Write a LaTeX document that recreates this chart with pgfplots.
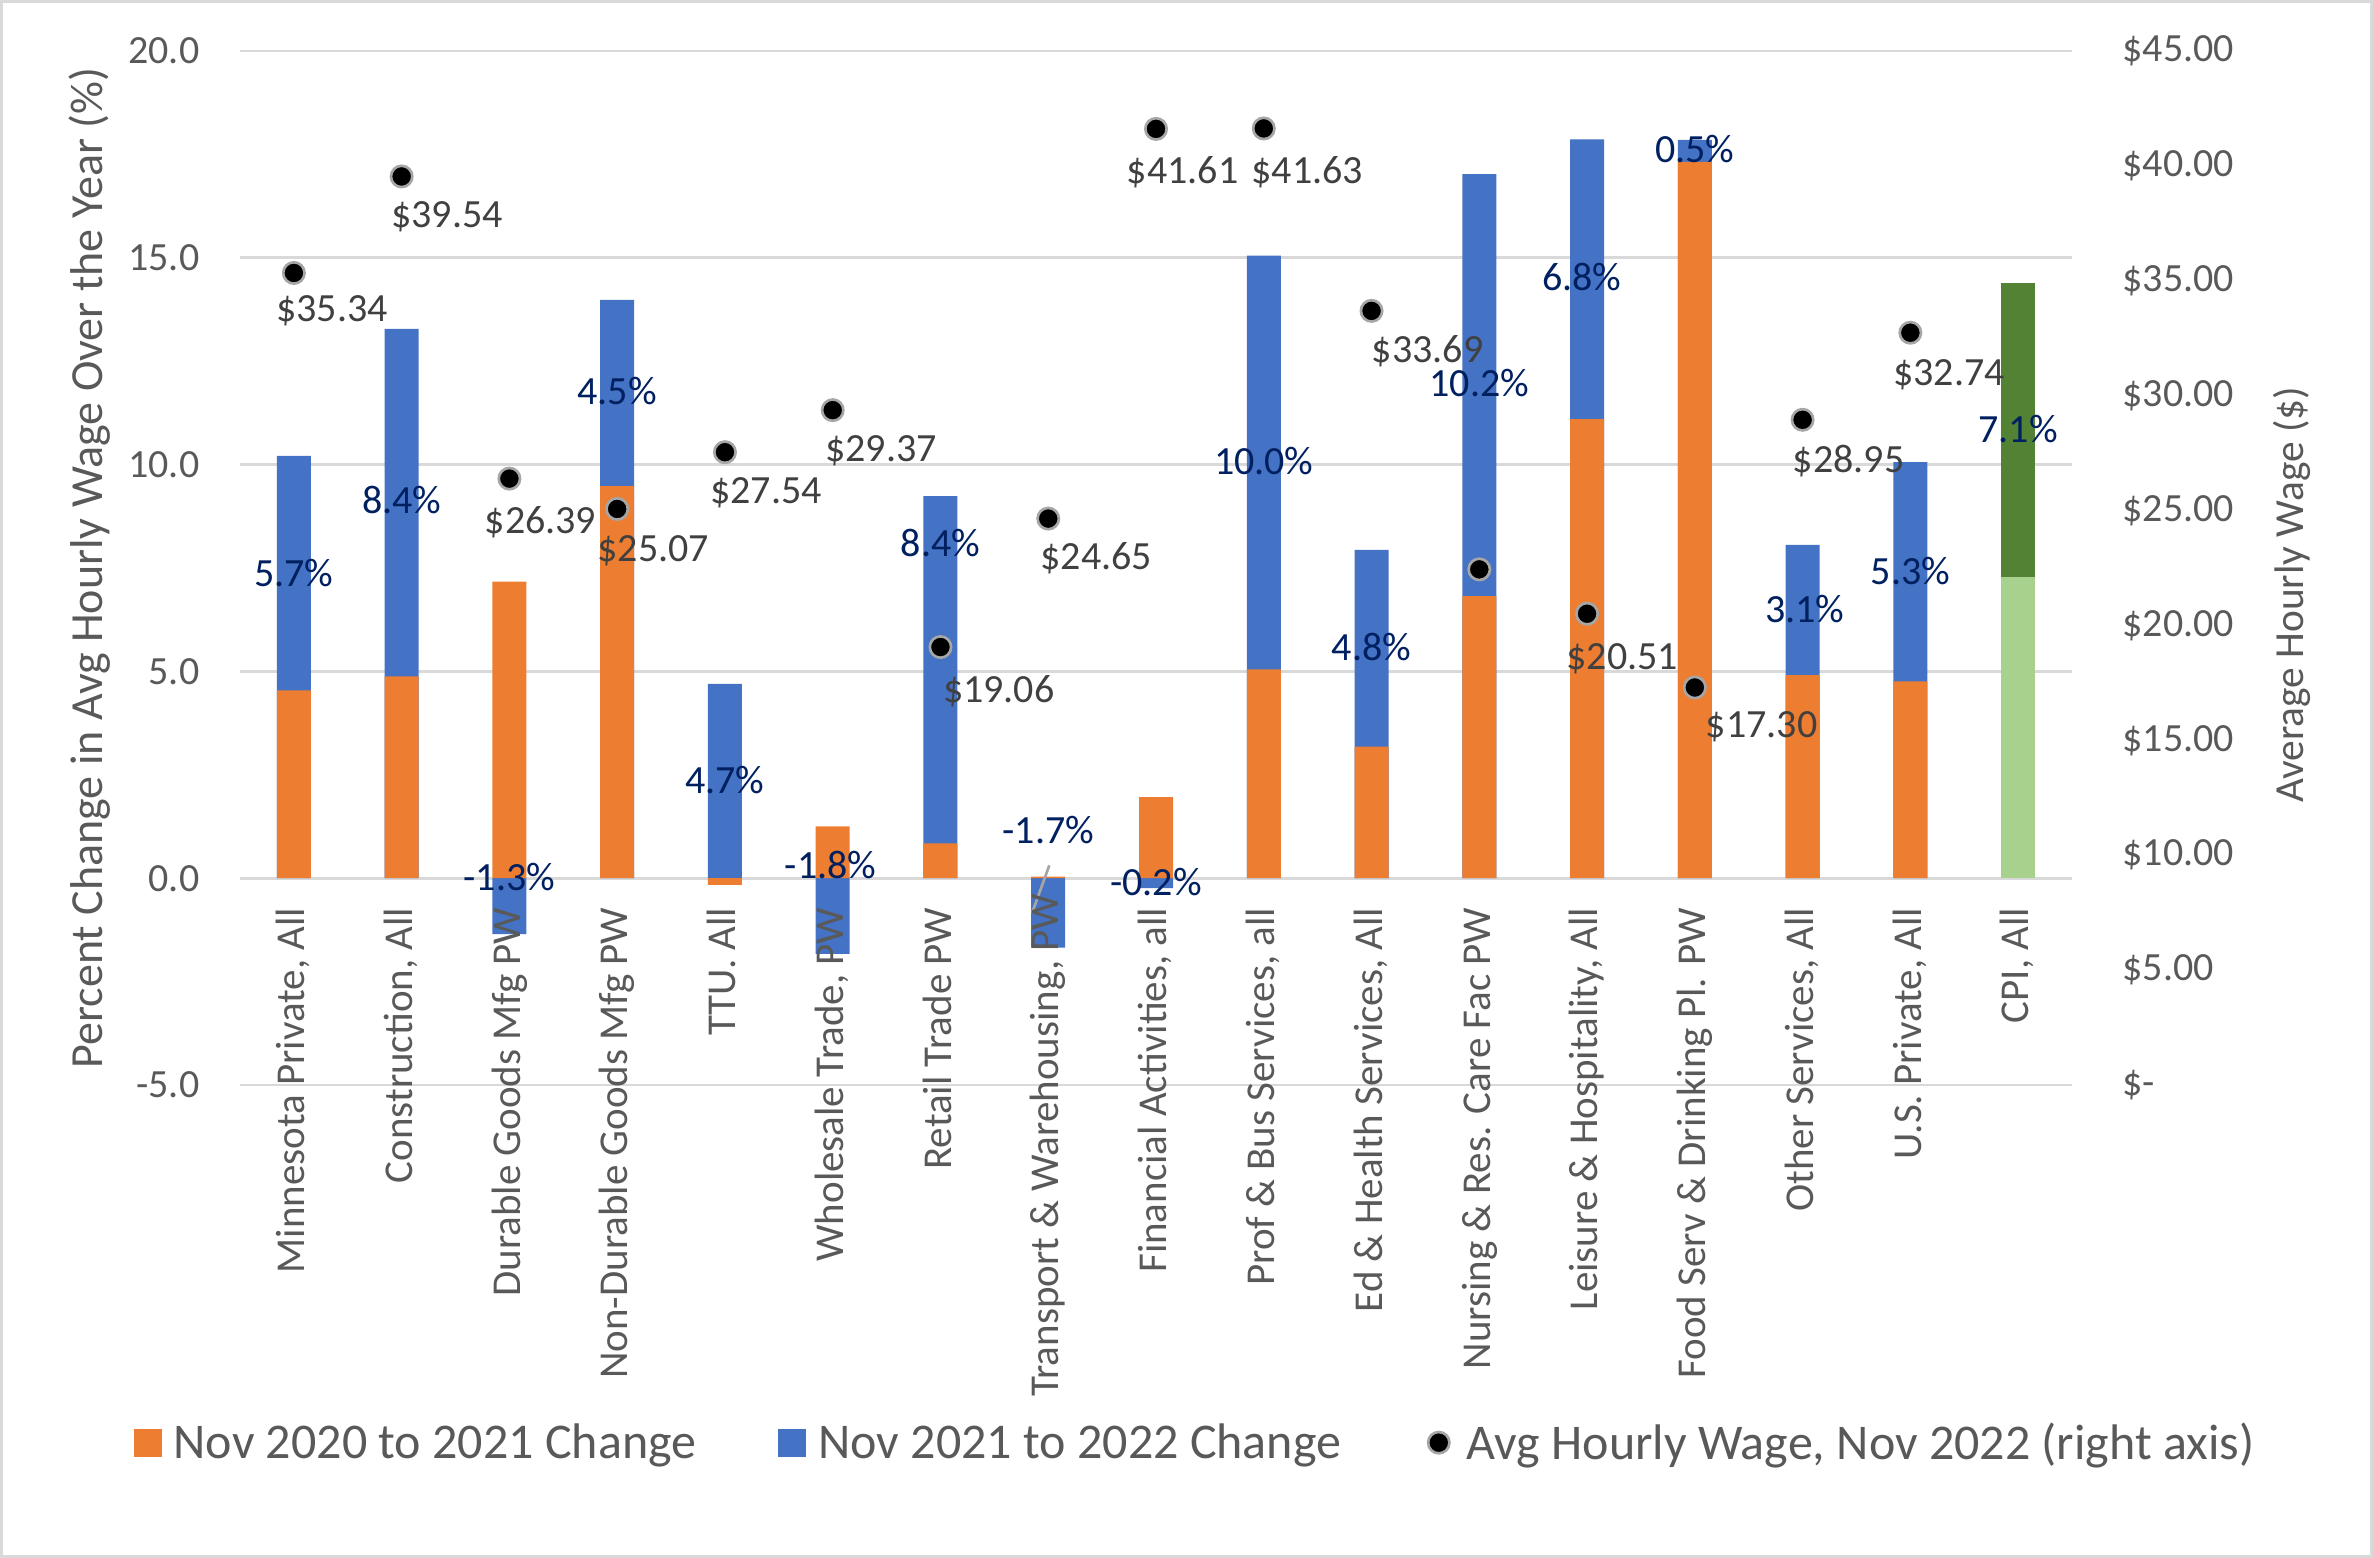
\documentclass[border=0pt]{standalone}
\usepackage{pgfplots}
\pgfplotsset{compat=1.18}
\usepackage{pgfplotstable}
\usepackage{fontspec}
\setmainfont{Carlito}

\definecolor{cOrange}{HTML}{ED7D31}
\definecolor{cBlue}{HTML}{4472C4}
\definecolor{cLGreen}{HTML}{A9D18E}
\definecolor{cDGreen}{HTML}{548235}
\definecolor{cGrid}{HTML}{D9D9D9}
\definecolor{cText}{HTML}{595959}
\definecolor{cLab}{HTML}{404040}
\definecolor{cNavy}{HTML}{002060}
\definecolor{cRing}{HTML}{A6A6A6}

\newcommand{\tickfont}{\fontsize{12bp}{14bp}\selectfont}
\newcommand{\catfont}{\fontsize{12.3bp}{14bp}\selectfont}
\newcommand{\titlefont}{\fontsize{13.8bp}{16bp}\selectfont}
\newcommand{\rtitlefont}{\fontsize{12.4bp}{14bp}\selectfont}
\newcommand{\legfont}{\fontsize{15bp}{18bp}\selectfont}

% o = Nov 2020 to 2021 change, b = Nov 2021 to 2022 change (percent)
\pgfplotstableread{
x o b
0 4.54 5.67
1 4.88 8.40
2 7.17 -1.35
3 9.48 4.50
4 -0.16 4.70
5 1.25 -1.83
6 0.84 8.40
7 0.04 -1.68
8 1.96 -0.24
9 5.05 10.00
10 3.18 4.76
11 6.82 10.20
12 11.10 6.76
13 17.32 0.53
14 4.91 3.15
15 4.76 5.30
}\chg

% CPI: a = 2020-2021, b = 2021-2022
\pgfplotstableread{
x a b
16 7.28 7.10
}\cpi

% positions of the percent labels
\pgfplotstableread{
x y lab
0 7.32 5.7
1 9.08 8.4
2 -0.04 -1.3
3 11.71 4.5
4 2.31 4.7
4.98 0.26 -1.8
6 8.04 8.4
7 1.10 -1.7
8 -0.15 -0.2
9 10.02 10.0
10 5.53 4.8
11 11.9 10.2
11.95 14.46 6.8
13 17.57 0.5
14.02 6.44 3.1
15 7.36 5.3
16 10.8 7.1
}\plab

% average hourly wage, Nov 2022 (right axis)
\pgfplotstableread{
x w
0 35.34
1 39.54
2 26.39
3 25.07
4 27.54
5 29.37
6 19.06
7 24.65
8 41.61
9 41.63
10 33.69
11 22.44
12 20.51
13 17.30
14 28.95
15 32.74
}\wage

% positions of the wage labels (right-axis units)
\pgfplotstableread{
x y lab
0.353 33.69 35.34
1.421 37.76 39.54
2.288 24.46 26.39
3.334 23.24 25.07
4.380 25.76 27.54
5.449 27.59 29.37
6.541 17.09 19.06
7.445 22.88 24.65
8.247 39.68 41.61
9.405 39.70 41.63
10.520 31.91 33.69
12.328 18.54 20.51
13.619 15.59 17.30
14.427 27.11 28.95
15.359 30.90 32.74
}\wlab

\begin{document}
\begin{tikzpicture}
\path[use as bounding box] (0,0) rectangle (711.9bp,467.4bp);
\draw[cGrid, line width=0.9bp] (0.45bp,0.45bp) rectangle (711.45bp,466.95bp);

\begin{axis}[
  at={(72bp,141.9bp)}, anchor=south west,
  scale only axis, width=549.6bp, height=310.2bp,
  xmin=-0.5, xmax=16.5, ymin=-5, ymax=20,
  xtick=\empty,
  ytick={-5,0,5,10,15,20},
  yticklabels={-5.0,0.0,5.0,10.0,15.0,20.0},
  ymajorgrids, grid style={cGrid, line width=0.8bp},
  axis line style={draw=none},
  major tick length=0pt, tick style={draw=none},
  ytick pos=left,
  tick label style={font=\tickfont, text=cText},
  yticklabel style={anchor=east, inner sep=0pt, xshift=-12bp},
  ylabel={Percent Change in Avg Hourly Wage Over the Year (\%)},
  ylabel style={at={(axis description cs:-0.07496,0.5)}, anchor=base, inner sep=0pt, font=\titlefont, text=cText},
  legend columns=3,
  legend cell align=left,
  legend style={at={(axis description cs:0,0)}, anchor=west, xshift=-32.1bp, yshift=-107.7bp,
    draw=none, fill=none, inner sep=0pt, font=\legfont, text=cText,
    nodes={inner sep=0pt},
    /tikz/every odd column/.append style={column sep=3.6bp},
    /tikz/every even column/.append style={column sep=24.6bp}},
  clip=false,
]
\addlegendimage{draw=none, fill=none, mark=none, legend image code/.code={\fill[cOrange, draw=none] (0bp,-3.8bp) rectangle (8.4bp,4.6bp);}}
\addlegendentry{Nov 2020 to 2021 Change}
\addlegendimage{draw=none, fill=none, mark=none, legend image code/.code={\fill[cBlue, draw=none] (0bp,-3.8bp) rectangle (8.4bp,4.6bp);}}
\addlegendentry{Nov 2021 to 2022 Change}
\addlegendimage{draw=none, fill=none, mark=none, legend image code/.code={\path[draw=none, fill=none] (0bp,-3.8bp) rectangle (9.5bp,4.6bp); \draw[draw=none, fill=none, mark=*, mark size=3.2bp, mark options={fill=black, draw=cRing, line width=0.8bp}] plot coordinates {(4.7bp,0.4bp)};}}
\addlegendentry{Avg Hourly Wage, Nov 2022 (right axis)}

% blue (2021-2022) segments: stacked on orange when both are positive
\addplot[forget plot, ybar, bar width=10.2bp, bar shift=0pt, fill=cBlue, draw=none]
  table[x=x, y expr={\thisrow{b}+(\thisrow{o}>0)*(\thisrow{b}>0)*\thisrow{o}}] {\chg};
% orange (2020-2021) segments
\addplot[forget plot, ybar, bar width=10.2bp, bar shift=0pt, fill=cOrange, draw=none]
  table[x=x, y=o] {\chg};
% CPI
\addplot[forget plot, ybar, bar width=10.2bp, bar shift=0pt, fill=cDGreen, draw=none]
  table[x=x, y expr={\thisrow{a}+\thisrow{b}}] {\cpi};
\addplot[forget plot, ybar, bar width=10.2bp, bar shift=0pt, fill=cLGreen, draw=none]
  table[x=x, y=a] {\cpi};

% leader line of the Transport label
\draw[cRing, line width=0.8bp] (axis cs:7.01,0.31) -- (axis cs:6.85,-0.84);

% percent labels
\addplot[forget plot, draw=none, mark=none, nodes near coords={\pgfplotspointmeta\%},
  point meta=explicit symbolic,
  every node near coord/.append style={anchor=center, font=\tickfont, text=cNavy, inner sep=0pt, text height=0.64em, text depth=0pt}]
  table[x=x, y=y, meta=lab] {\plab};
\end{axis}

\begin{axis}[
  at={(72bp,141.9bp)}, anchor=south west,
  scale only axis, width=549.6bp, height=310.2bp,
  xmin=-0.5, xmax=16.5, ymin=0, ymax=45,
  xtick={0,1,...,16},
  xticklabels={{Minnesota Private, All},{Construction, All},{Durable Goods Mfg PW},{Non-Durable Goods Mfg PW},{TTU. All},{Wholesale Trade, PW},{Retail Trade PW},{Transport \& Warehousing, PW\hspace*{-4.2bp}},{Financial Activities, all},{Prof \& Bus Services, all},{Ed \& Health Services, All},{Nursing \& Res. Care Fac PW},{Leisure \& Hospitality, All},{Food Serv \& Drinking Pl. PW},{Other Services, All},{U.S. Private, All},{CPI, All}},
  xtick pos=bottom,
  xticklabel style={rotate=90, anchor=east, inner sep=0pt, text height=0.644em, text depth=0pt, font=\catfont, text=cText},
  xticklabel shift=-53.4bp,
  ytick={0,5,...,45},
  yticklabels={\$-,\$5.00,\$10.00,\$15.00,\$20.00,\$25.00,\$30.00,\$35.00,\$40.00,\$45.00},
  yticklabel pos=right, ytick pos=right,
  axis line style={draw=none},
  major tick length=0pt, tick style={draw=none},
  yticklabel style={anchor=west, inner sep=0pt, xshift=15bp, font=\tickfont, text=cText},
  ylabel={Average Hourly Wage (\$)},
  ylabel style={at={(axis description cs:1.1263,0.474)}, anchor=base, inner sep=0pt, font=\rtitlefont, text=cText},
  clip=false,
]
\addplot[only marks, mark=*, mark size=3.2bp, mark options={fill=black, draw=cRing, line width=0.8bp}]
  table[x=x, y=w] {\wage};
\addplot[draw=none, mark=none, nodes near coords={\$\pgfplotspointmeta},
  point meta=explicit symbolic,
  every node near coord/.append style={anchor=center, font=\tickfont, text=cLab, inner sep=0pt, text height=0.64em, text depth=0pt}]
  table[x=x, y=y, meta=lab] {\wlab};
\end{axis}
\end{tikzpicture}
\end{document}
